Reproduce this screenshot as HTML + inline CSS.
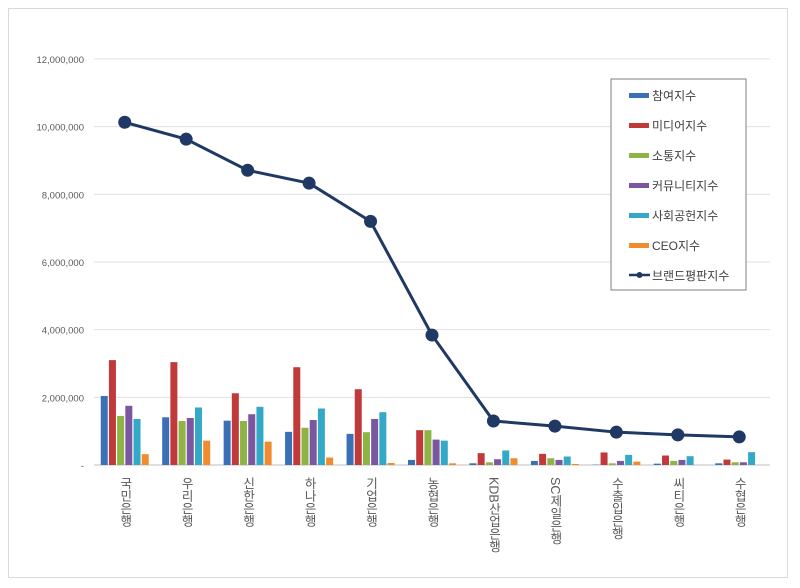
<!DOCTYPE html>
<html><head><meta charset="utf-8"><style>
body{margin:0;background:#fff;}
#wrap{position:relative;width:800px;height:588px;overflow:hidden;font-family:"Liberation Sans","Noto Sans CJK KR",sans-serif;}
.frame{position:absolute;left:8px;top:8px;width:780px;height:570px;border:1px solid #d9d9d9;box-sizing:border-box;}
.vl{position:absolute;writing-mode:vertical-rl;font-size:12.5px;color:#595959;line-height:14px;}
</style></head><body>
<div id="wrap">
<div class="frame"></div>
<svg id="svg" width="800" height="588" style="position:absolute;left:0;top:0"></svg>
<div id="labels"></div>
</div>
<script>
const categories=["국민은행","우리은행","신한은행","하나은행","기업은행","농협은행","KDB산업은행","SC제일은행","수출입은행","씨티은행","수협은행"];
const participation=[2040000,1410000,1310000,980000,920000,150000,50000,120000,10000,40000,50000];
const media=[3100000,3040000,2120000,2890000,2240000,1030000,350000,330000,370000,280000,160000];
const communication=[1450000,1300000,1300000,1100000,970000,1030000,80000,200000,50000,120000,80000];
const community=[1750000,1390000,1500000,1330000,1360000,750000,170000,150000,120000,150000,80000];
const social=[1360000,1700000,1720000,1670000,1560000,720000,430000,250000,300000,260000,380000];
const ceo=[320000,720000,690000,220000,60000,50000,200000,30000,100000,0,0];
const brandIndex=[10130000,9630000,8710000,8330000,7200000,3840000,1300000,1150000,970000,890000,830000];
const yTicks=[0,2000000,4000000,6000000,8000000,10000000,12000000];
const seriesNames=["참여지수","미디어지수","소통지수","커뮤니티지수","사회공헌지수","CEO지수"];
const colors=["#3b6fb6","#c0393b","#8fb446","#7a57a0","#33a9c7","#f08c2e"];
const series=[participation,media,communication,community,social,ceo];

const NS="http://www.w3.org/2000/svg";
const svg=document.getElementById('svg');
const x0=94,x1=770,y0=465,yTop=59,yMax=12000000;
const step=(x1-x0)/categories.length;
const ys=v=>y0-(v/yMax)*(y0-yTop);
const xc=i=>x0+step*(i+0.5);
function mk(t,a){const e=document.createElementNS(NS,t);for(const k in a)e.setAttribute(k,a[k]);svg.appendChild(e);return e;}
yTicks.forEach(t=>{
  const g=mk('line',{x1:x0,x2:x1,y1:ys(t),y2:ys(t),stroke:t===0?'#bfbfbf':'#e0e0e0','stroke-width':1});
  
  
  const tx=mk('text',{x:84,y:ys(t)+4,'text-anchor':'end','font-size':'9.5',fill:'#595959','font-family':'Liberation Sans'});
  tx.textContent=t===0?'-':t.toLocaleString('en-US');
  
  
});
const bw=7,gap=1.2;
series.forEach((s,si)=>{
  s.forEach((v,i)=>{
    const x=xc(i)-(6*bw+5*gap)/2+si*(bw+gap);
    const r=mk('rect',{x:x,y:ys(v),width:bw,height:y0-ys(v),fill:colors[si]});
    
    
  });
});
const pts=brandIndex.map((v,i)=>xc(i)+','+ys(v)).join(' ');
const pl=mk('polyline',{points:pts,fill:'none',stroke:'#203864','stroke-width':3});


brandIndex.forEach((v,i)=>{
  const c=mk('circle',{cx:xc(i),cy:ys(v),r:6.5,fill:'#203864'});
  
  
});
const lab=document.getElementById('labels');
categories.forEach((c,i)=>{
  const d=document.createElement('div');
  d.className='vl';d.textContent=c;
  d.style.left=(xc(i)-7)+'px';d.style.top='477px';
  
  
  lab.appendChild(d);
});
// legend
const lg=mk('rect',{x:611,y:79,width:135,height:211,fill:'#fff',stroke:'#7f7f7f','stroke-width':1});


seriesNames.forEach((n,i)=>{
  const y=95+i*30;
  const r=mk('rect',{x:629,y:y-2,width:20,height:5,fill:colors[i]});
  
  
  const t=mk('text',{x:652,y:y+5,'font-size':'12',fill:'#404040','font-family':'Liberation Sans, Noto Sans CJK KR, sans-serif'});
  t.textContent=n;
  
  
});
const ly=275;
const ll=mk('line',{x1:629,x2:650,y1:ly,y2:ly,stroke:'#203864','stroke-width':2.5});


const lc=mk('circle',{cx:639.5,cy:ly,r:3,fill:'#203864'});


const lt=mk('text',{x:652,y:ly+5,'font-size':'12',fill:'#404040','font-family':'Liberation Sans, Noto Sans CJK KR, sans-serif'});
lt.textContent='브랜드평판지수';


</script>
</body></html>
